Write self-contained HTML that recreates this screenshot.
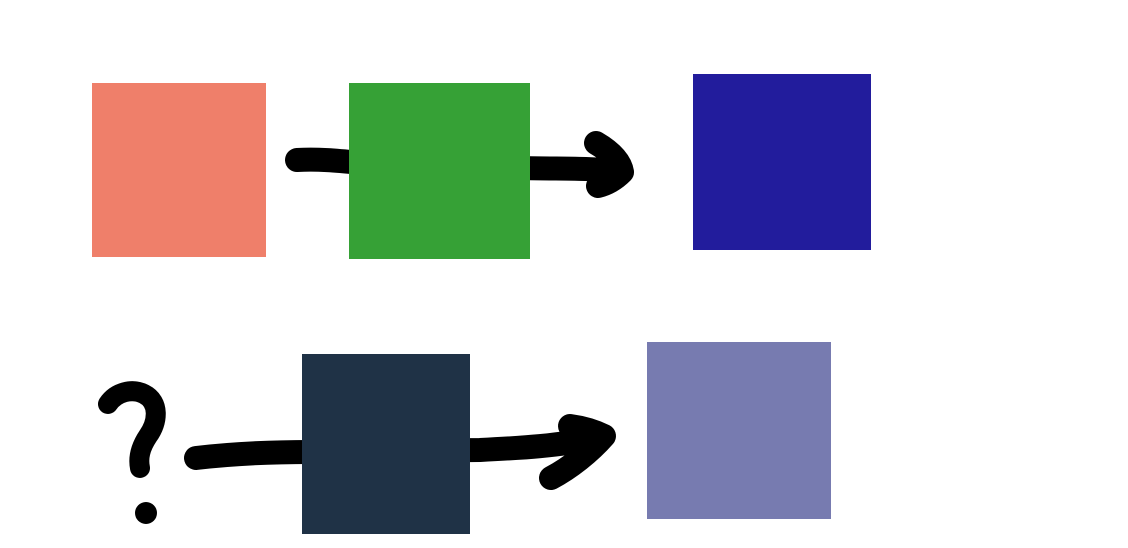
<!DOCTYPE html>
<html>
<head>
<meta charset="utf-8">
<style>
  html, body { margin: 0; padding: 0; background: #ffffff; }
  body { width: 1128px; height: 548px; overflow: hidden; font-family: "Liberation Sans", sans-serif; }
  svg { display: block; }
</style>
</head>
<body>
<svg width="1128" height="548" viewBox="0 0 1128 548">
  <g fill="none" stroke="#000" stroke-linecap="round" stroke-linejoin="round" stroke-width="24">
    <path d="M297 160 C 330 158, 360 164, 400 166 L 520 168 C 560 169, 590 168, 618 171"/>
    <path d="M596 143 C 608 150, 620 160, 622 172 C 614 180, 606 184, 598 186"/>
    <path d="M196 458 C 230 454, 270 452, 310 452 L 480 450 C 520 448, 560 446, 600 437"/>
    <path d="M570 426 C 585 428, 596 432, 604 436 C 590 452, 570 468, 551 478"/>
    <path stroke-width="20" d="M108 404 C 116 392, 132 388, 144 394 C 160 402, 158 422, 148 436 C 140 448, 138 458, 140 468"/>
  </g>
  <circle cx="146" cy="513" r="11" fill="#000"/>
  <rect x="92" y="83" width="174" height="174" fill="#EF7F6A"/>
  <rect x="349" y="83" width="181" height="176" fill="#36A136"/>
  <rect x="693" y="74" width="178" height="176" fill="#221C9C"/>
  <rect x="302" y="354" width="168" height="180" fill="#1F3246"/>
  <rect x="647" y="342" width="184" height="177" fill="#777BB0"/>
</svg>
</body>
</html>
